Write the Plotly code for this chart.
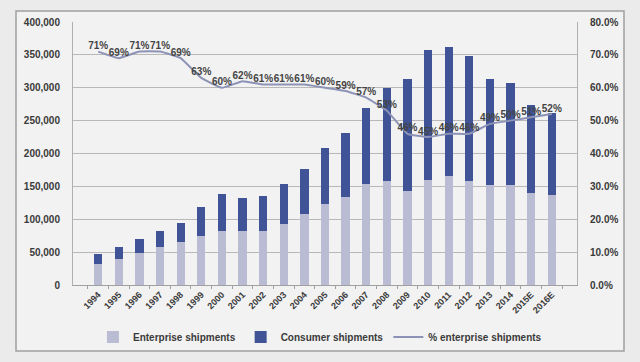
import plotly.graph_objects as go

years = ["1994", "1995", "1996", "1997", "1998", "1999", "2000", "2001", "2002", "2003",
         "2004", "2005", "2006", "2007", "2008", "2009", "2010", "2011", "2012", "2013",
         "2014", "2015E", "2016E"]
enterprise = [32000, 40000, 49000, 57500, 65500, 74500, 82000, 82000, 82500, 92500,
              107500, 123500, 134500, 153000, 158000, 143500, 159500, 166000, 158000, 152000,
              152000, 140500, 137000]
total = [46700, 58300, 70000, 82100, 94800, 118600, 138000, 131800, 135900, 153100,
         176400, 207900, 230700, 268700, 299100, 313000, 357400, 362500, 348300, 313800,
         307700, 273800, 262100]
consumer = [t - e for t, e in zip(total, enterprise)]
pct = [71, 69, 71, 71, 69, 63, 60, 62, 61, 61, 61, 60, 59, 57, 53, 46, 45, 46, 46, 49, 50, 51, 52]
pct_labels = [f"{p}%" for p in pct]

FONT = "Liberation Sans, Arial, sans-serif"
TXT = "#3a3a3a"

fig = go.Figure()
fig.add_trace(go.Bar(x=years, y=enterprise, name="Enterprise shipments",
                     marker=dict(color="#b9bcd2", line=dict(width=0)), width=0.4))
fig.add_trace(go.Bar(x=years, y=consumer, name="Consumer shipments",
                     marker=dict(color="#3f5396", line=dict(width=0)), width=0.4))
fig.add_trace(go.Scatter(x=years, y=pct, name="% enterprise shipments", yaxis="y2",
                         mode="lines+text", text=pct_labels, textposition="top center",
                         textfont=dict(family=FONT, size=10, color="#444", weight="bold"),
                         line=dict(color="#8d93b6", width=2, shape="spline", smoothing=0.3),
                         cliponaxis=False))

fig.update_layout(
    width=640, height=362,
    margin=dict(l=73, r=63, t=22, b=77, autoexpand=False),
    paper_bgcolor="#ebebeb",
    plot_bgcolor="#f5f5f5",
    barmode="stack",
    font=dict(family=FONT, size=10, color=TXT),
    showlegend=True,
    legend=dict(orientation="h", x=0.49, xanchor="center", y=-0.198, yanchor="middle",
                traceorder="normal",
                font=dict(family=FONT, size=10, color=TXT, weight="bold"),
                bgcolor="rgba(0,0,0,0)", itemwidth=30),
    xaxis=dict(type="category", tickangle=-45, showgrid=False, showline=True,
               linecolor="#a0a0a0", ticks="outside", tickson="boundaries", ticklen=3,
               tickcolor="#a0a0a0", automargin=False,
               tickfont=dict(family=FONT, size=9, color=TXT, weight="bold")),
    yaxis=dict(range=[0, 400000], dtick=50000, tickformat=",", showgrid=True,
               gridcolor="#b8b8b8", gridwidth=1, showline=True, linecolor="#b0b0b0",
               zeroline=False, ticklabelstandoff=10, automargin=False,
               tickfont=dict(family=FONT, size=10, color=TXT, weight="bold")),
    yaxis2=dict(range=[0, 80], dtick=10, tickformat=".1f", ticksuffix="%",
                overlaying="y", side="right", showgrid=False, showline=True,
                linecolor="#b0b0b0", zeroline=False, ticklabelstandoff=10, automargin=False,
                tickfont=dict(family=FONT, size=10, color=TXT, weight="bold")),
)

fig.add_shape(type="rect", xref="paper", yref="paper", layer="below",
              x0=-57 / 504, x1=(624 - 73) / 504, y0=-(351 - 285) / 263, y1=(285 - 11) / 263,
              line=dict(color="#a0a0a0", width=1.5), fillcolor="#f2f2f2")

fig.write_html("out.html", config={"displayModeBar": False},
               post_script="document.body.style.margin='0';")
